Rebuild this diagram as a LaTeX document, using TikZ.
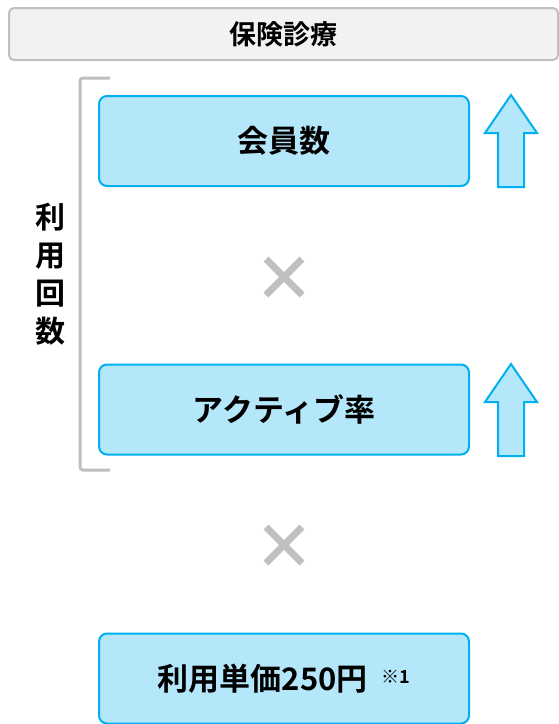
\documentclass[tikz,border=0pt]{standalone}
\usepackage{fontspec}
\setmainfont{Noto Sans CJK JP}[BoldFont={* Bold}]
\usepackage{xcolor}
\usepackage{tikz}
\usetikzlibrary{calc, positioning}
\definecolor{boxfill}{HTML}{B3E7F9}
\definecolor{boxline}{HTML}{00B0F0}
\definecolor{headfill}{HTML}{F2F2F2}
\definecolor{headline}{HTML}{BFBFBF}
\newcommand{\notemark}[1]{\raisebox{7pt}{\fontsize{18}{20}\selectfont #1}}
\tikzset{
    header/.style={rectangle, draw=headline, line width=2pt, fill=headfill, rounded corners=5pt, minimum width=549pt, minimum height=52pt, font=\fontsize{27}{30}\selectfont\bfseries},
    factor/.style={rectangle, draw=boxline, line width=2pt, fill=boxfill, rounded corners=8pt, minimum width=370pt, minimum height=90pt, font=\fontsize{31}{34}\selectfont\bfseries},
    times/.style={line width=7pt, draw=headline},
    uparrow/.style={draw=boxline, line width=2pt, fill=boxfill, line join=miter},
    bracket/.style={draw=headline, line width=3pt, rounded corners=3pt},
    sidelabel/.style={align=center, font=\fontsize{30}{38}\selectfont\bfseries}
}

\begin{document}
\begin{tikzpicture}[x=1pt, y=-1pt]
    \useasboundingbox (0,0) rectangle (558,724);

    % Header
    \node[header] (Head) at (283.5, 34) {保険診療};

    % Factors
    \node[factor] (Members) at (284, 141) {会員数};
    \node[factor] (Active) at (284, 409.5) {アクティブ率};
    \node[factor] (Price) at (284, 678.5) {利用単価250円\hspace{14pt}\notemark{※1}};

    % Multiplication signs
    \foreach \name/\y in {TimesA/277, TimesB/545} {
        \coordinate (\name) at (284, \y);
        \draw[times] ($(\name)+(-18,-18)$) -- ($(\name)+(18,18)$);
        \draw[times] ($(\name)+(-18,18)$) -- ($(\name)+(18,-18)$);
    }

    % Up arrows
    \foreach \name/\y in {UpA/95, UpB/364} {
        \coordinate (\name) at (511, \y);
        \draw[uparrow] (\name) -- ++(26,38) -- ++(-13,0) -- ++(0,54) -- ++(-26,0)
            -- ++(0,-54) -- ++(-13,0) -- cycle;
    }

    % Bracket
    \coordinate (BrTop) at (110, 78);
    \coordinate (BrBot) at (110, 470);
    \draw[bracket] (BrTop) -- (80, 78) -- (80, 470) -- (BrBot);
    \node[sidelabel] (Usage) at (50, 274) {利\\用\\回\\数};
\end{tikzpicture}
\end{document}
